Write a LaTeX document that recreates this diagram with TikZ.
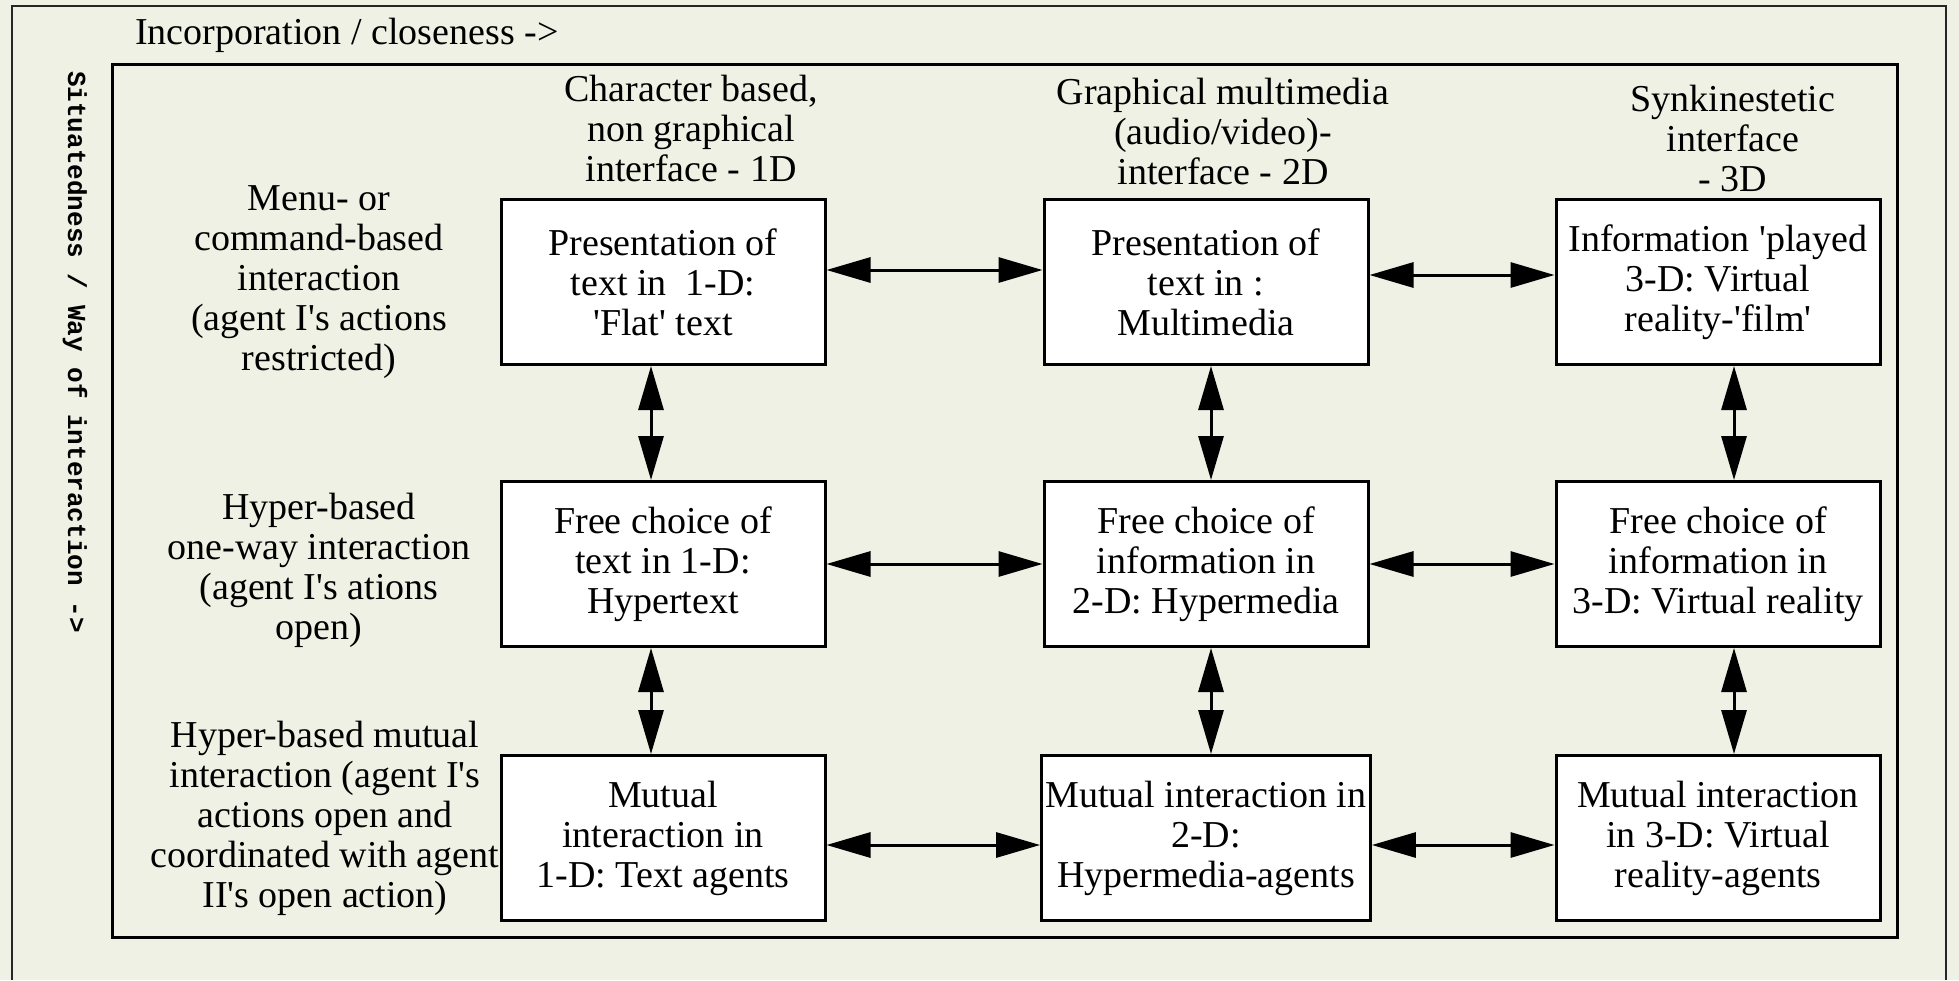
\documentclass[tikz,border=0pt]{standalone}
\usepackage{fontspec}
\setmainfont{Liberation Serif}
\newfontfamily\sidefont{Liberation Mono}
\usetikzlibrary{arrows.meta}

\definecolor{paper}{RGB}{238,241,227}
\newcommand{\sq}{\textquotesingle}

\tikzset{
	cellbox/.style={draw, line width=1.5pt, fill=white, minimum width=162pt, minimum height=82.5pt, align=center, inner sep=2pt},
	headtext/.style={align=center},
	twoway/.style={{Triangle[length=22pt,width=12.5pt]}-{Triangle[length=22pt,width=12.5pt]}, line width=1.5pt}
}

\begin{document}
\begin{tikzpicture}[x=0.5pt, y=-0.5pt, every node/.style={font=\fontsize{19pt}{20pt}\selectfont}]
\fill[paper] (0,0) rectangle (1959,980);
\useasboundingbox (0,0) rectangle (1959,980);
\draw[line width=1pt, black!85] (12,980) -- (12,6) -- (1946,6) -- (1946,980);
\draw[line width=1.5pt] (112,64) rectangle (1897,937);

\pgfmathsetmacro{\colA}{663}
\pgfmathsetmacro{\colB}{1206}
\pgfmathsetmacro{\colC}{1718}
\pgfmathsetmacro{\rowA}{282}
\pgfmathsetmacro{\rowB}{564}
\pgfmathsetmacro{\rowC}{838}

% axis labels
\node[anchor=west] (closeness) at (128,35) {Incorporation / closeness ->};
\node[rotate=-90, font=\sidefont\bfseries\fontsize{13pt}{15pt}\selectfont] (situated) at (75,352) {Situatedness / Way of interaction ->};

% column and row heads
\node[headtext] (oneD) at (691,128) {Character based,\\non graphical\\interface - 1D};
\node[headtext] (twoD) at (1223,131) {Graphical multimedia\\(audio/video)-\\interface - 2D};
\node[headtext] (threeD) at (1733,138) {Synkinestetic\\interface\\- 3D};

\node[headtext] (menu) at (319,282) {Menu- or\\command-based\\interaction\\(agent I\sq s actions\\restricted)};
\node[headtext] (oneway) at (319,570) {Hyper-based\\one-way interaction\\(agent I\sq s ations\\open)};
\node[headtext] (mutual) at (325,818) {Hyper-based mutual\\interaction (agent I\sq s\\actions open and\\coordinated with agent\\II\sq s open action)};

% cells
\node[cellbox] (flat) at (\colA,\rowA) {Presentation of\\text in~~1-D:\\\sq Flat\sq\ text};
\node[cellbox] (multi) at (\colB,\rowA) {Presentation of\\text in :\\Multimedia};
\node[cellbox] (film) at (\colC,\rowA) {Information \sq played\\3-D: Virtual\\reality-\sq film\sq};

\node[cellbox] (hypertext) at (\colA,\rowB) {Free choice of\\text in 1-D:\\Hypertext};
\node[cellbox] (hypermedia) at (\colB,\rowB) {Free choice of\\information in\\2-D: Hypermedia};
\node[cellbox] (virtual) at (\colC,\rowB) {Free choice of\\information in\\3-D: Virtual reality};

\node[cellbox] (textag) at (\colA,\rowC) {Mutual\\interaction in\\1-D: Text agents};
\node[cellbox] (mediaag) at (\colB,\rowC) {Mutual interaction in\\2-D:\\Hypermedia-agents};
\node[cellbox] (vrag) at (\colC,\rowC) {Mutual interaction\\in 3-D: Virtual\\reality-agents};

\draw[twoway] ([yshift=6pt]flat.east) -- ([yshift=6pt]multi.west);
\draw[twoway] ([yshift=3.5pt]multi.east) -- ([yshift=3.5pt]film.west);
\draw[twoway] (hypertext) -- (hypermedia);
\draw[twoway] (hypermedia) -- (virtual);
\draw[twoway] ([yshift=-3.5pt]textag.east) -- ([yshift=-3.5pt]mediaag.west);
\draw[twoway] ([yshift=-3.5pt]mediaag.east) -- ([yshift=-3.5pt]vrag.west);

\draw[twoway] ([xshift=-6pt]flat.south) -- ([xshift=-6pt]hypertext.north);
\draw[twoway] ([xshift=-6pt]hypertext.south) -- ([xshift=-6pt]textag.north);
\draw[twoway] ([xshift=2.5pt]multi.south) -- ([xshift=2.5pt]hypermedia.north);
\draw[twoway] ([xshift=2.5pt]hypermedia.south) -- ([xshift=2.5pt]mediaag.north);
\draw[twoway] ([xshift=8pt]film.south) -- ([xshift=8pt]virtual.north);
\draw[twoway] ([xshift=8pt]virtual.south) -- ([xshift=8pt]vrag.north);
\end{tikzpicture}
\end{document}
